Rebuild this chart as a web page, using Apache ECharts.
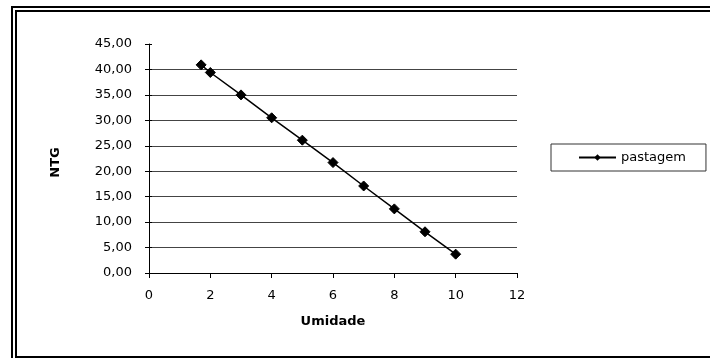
<!DOCTYPE html>
<html>
<head>
<meta charset="utf-8">
<style>
html,body{margin:0;padding:0;background:#fff;}
#chart{width:710px;height:358px;}
</style>
<script src="https://cdn.jsdelivr.net/npm/echarts@6/dist/echarts.min.js"></script>
</head>
<body>
<div id="chart"></div>
<script>
var seriesName = 'pastagem';
var umidade = [1.7, 2, 3, 4, 5, 6, 7, 8, 9, 10];
var ntg = [40.9, 39.4, 35.0, 30.5, 26.1, 21.7, 17.1, 12.6, 8.1, 3.7];
var xTitle = 'Umidade';
var yTitle = 'NTG';

var chart = echarts.init(document.getElementById('chart'), null, {renderer: 'canvas'});
var font = 'DejaVu Sans';
var points = umidade.map(function (x, i) { return [x, ntg[i]]; });

chart.setOption({
  animation: false,
  backgroundColor: '#fff',
  grid: {left: 149, top: 44, right: 193, bottom: 85, containLabel: false},
  xAxis: {
    type: 'value', min: 0, max: 12, interval: 2,
    name: xTitle, nameLocation: 'middle', nameGap: 42,
    nameTextStyle: {fontFamily: font, fontSize: 13, fontWeight: 'bold', color: '#000'},
    axisLine: {lineStyle: {color: '#000', width: 1}},
    axisTick: {show: true, inside: false, length: 5, lineStyle: {color: '#000'}},
    axisLabel: {fontFamily: font, fontSize: 13, color: '#000', margin: 16},
    splitLine: {show: false}
  },
  yAxis: [{
    type: 'value', min: 0, max: 45, interval: 5,
    name: yTitle, nameLocation: 'middle', nameGap: 87, nameRotate: 90,
    nameTextStyle: {fontFamily: font, fontSize: 13, fontWeight: 'bold', color: '#000', padding: [0, 8, 0, 0]},
    axisLine: {show: true, lineStyle: {color: '#000', width: 1}},
    axisTick: {show: true, inside: false, length: 4, lineStyle: {color: '#000'}},
    axisLabel: {fontFamily: font, fontSize: 13, color: '#000', margin: 17,
      formatter: function (v) { return v.toFixed(2).replace('.', ','); }},
    splitLine: {show: true, showMaxLine: false, lineStyle: {color: '#444', width: 1}},
    splitArea: {show: false}
  }, {
    type: 'value', min: 0, max: 45, interval: 5, position: 'left',
    axisLine: {show: false},
    axisTick: {show: true, inside: true, length: 3, lineStyle: {color: '#000'}},
    axisLabel: {show: false},
    splitLine: {show: false}
  }],
  legend: {
    show: true, orient: 'vertical', left: 551, top: 144,
    padding: [7, 20, 7, 27], borderColor: '#333', borderWidth: 1,
    itemWidth: 37, itemHeight: 8, itemGap: 5,
    textStyle: {fontFamily: font, fontSize: 13, color: '#000'},
    data: [seriesName]
  },
  series: [{
    name: seriesName, type: 'line', data: points, yAxisIndex: 0,
    symbol: 'diamond', symbolSize: 10, showAllSymbol: true,
    lineStyle: {color: '#000', width: 1.5},
    itemStyle: {color: '#000', borderColor: '#000'},
    emphasis: {disabled: true}
  }],
  graphic: [
    {type: 'rect', shape: {x: 11, y: 6, width: 2, height: 352}, style: {fill: '#000'}, silent: true},
    {type: 'rect', shape: {x: 11, y: 6, width: 699, height: 2}, style: {fill: '#000'}, silent: true},
    {type: 'rect', shape: {x: 15, y: 10, width: 2, height: 348}, style: {fill: '#000'}, silent: true},
    {type: 'rect', shape: {x: 15, y: 10, width: 695, height: 2}, style: {fill: '#000'}, silent: true},
    {type: 'rect', shape: {x: 15, y: 356, width: 695, height: 2}, style: {fill: '#000'}, silent: true}
  ]
});
</script>
</body>
</html>
